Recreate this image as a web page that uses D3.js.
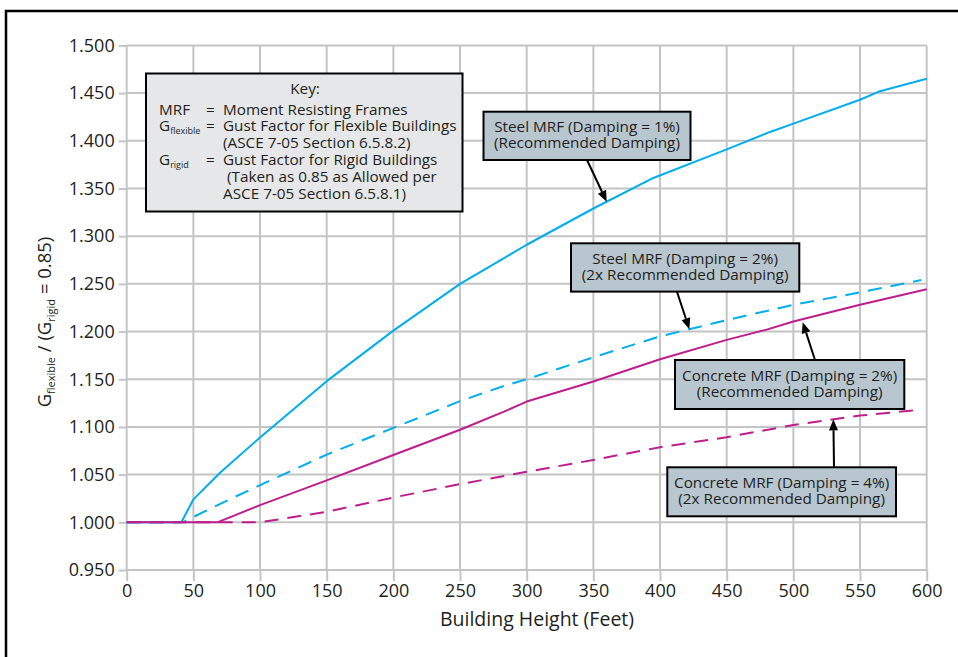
<!DOCTYPE html>
<html><head><meta charset="utf-8">
<script src="https://cdn.jsdelivr.net/npm/d3@7"></script>
<style>
body{margin:0;background:#fff}
svg{display:block}
text{font-family:"Open Sans",sans-serif;fill:#231f20}
</style>
</head><body>
<svg id="c" width="958" height="657"></svg>
<script>
// ---- data (building height in feet, G_flexible / G_rigid) ----
const steel1 = [[0,1.0],[41,1.0],[50,1.024],[70,1.052],[100,1.089],[150,1.148],[200,1.201],[250,1.250],[283,1.277],[300,1.291],[350,1.329],[395,1.361],[450,1.391],[482,1.409],[500,1.418],[550,1.443],[565,1.452],[600,1.465]];
const steel2 = [[0,1.0],[42,1.0],[65,1.016],[100,1.039],[150,1.071],[200,1.099],[250,1.127],[283,1.143],[300,1.150],[350,1.173],[400,1.195],[450,1.212],[500,1.228],[550,1.241],[596,1.254]];
const concrete2 = [[0,1.0],[68,1.0],[100,1.018],[150,1.044],[200,1.0706],[250,1.097],[283,1.116],[300,1.1266],[350,1.1476],[400,1.171],[450,1.1913],[480,1.202],[500,1.2105],[550,1.228],[600,1.2444]];
const concrete4 = [[0,1.0],[100,1.0],[150,1.011],[200,1.026],[250,1.040],[300,1.053],[350,1.0654],[400,1.0787],[450,1.0892],[500,1.102],[550,1.1119],[595,1.118]];

const xTickValues = [0,50,100,150,200,250,300,350,400,450,500,550,600];
const yTickValues = [0.95,1.0,1.05,1.1,1.15,1.2,1.25,1.3,1.35,1.4,1.45,1.5];

const seriesNames = ["Steel MRF 1%","Steel MRF 2%","Concrete MRF 2%","Concrete MRF 4%"];
const seriesData = [steel1, steel2, concrete2, concrete4];
const seriesColors = ["#00aeef","#00aeef","#be1e8c","#be1e8c"];
const seriesDashed = [false,true,false,true];

const annoLine1 = ["Steel MRF (Damping = 1%)","Steel MRF (Damping = 2%)","Concrete MRF (Damping = 2%)","Concrete MRF (Damping = 4%)"];
const annoLine2 = ["(Recommended Damping)","(2x Recommended Damping)","(Recommended Damping)","(2x Recommended Damping)"];
const annoTargetX = [360, 422, 507, 530];

const keyDefinitions = ["Moment Resisting Frames","Gust Factor for Flexible Buildings","(ASCE 7-05 Section 6.5.8.2)","Gust Factor for Rigid Buildings","(Taken as 0.85 as Allowed per","ASCE 7-05 Section 6.5.8.1)"];

// ---- layout ----
const svg = d3.select("#c");
const L = 126.7, R = 926.7, T = 45.4, B = 570;
const x = d3.scaleLinear().domain([0,600]).range([L,R]);
const y = d3.scaleLinear().domain([0.95,1.5]).range([B,T]);
const grid = "#c4c4c4";
const fs = 15.3;

// outer frame
svg.append("rect").attr("x",6).attr("y",11).attr("width",1000).attr("height",700)
  .attr("fill","none").attr("stroke","#000").attr("stroke-width",2.5);

// gridlines
const g = svg.append("g");
g.selectAll(".vg").data(xTickValues).join("line")
  .attr("x1",d=>x(d)).attr("x2",d=>x(d)).attr("y1",T).attr("y2",B)
  .attr("stroke",grid).attr("stroke-width",2);
g.selectAll(".hg").data(yTickValues).join("line")
  .attr("x1",L).attr("x2",R).attr("y1",d=>y(d)).attr("y2",d=>y(d))
  .attr("stroke",grid).attr("stroke-width",2);

// axes
const xAxis = svg.append("g").attr("transform",`translate(0,${B})`)
  .call(d3.axisBottom(x).tickValues(xTickValues).tickSize(11).tickPadding(3).tickFormat(d3.format("d")));
const yAxis = svg.append("g").attr("transform",`translate(${L},0)`)
  .call(d3.axisLeft(y).tickValues(yTickValues).tickSize(8).tickPadding(4).tickFormat(d3.format(".3f")));
[xAxis,yAxis].forEach(a=>{
  a.select(".domain").remove();
  a.selectAll(".tick line").attr("stroke",grid).attr("stroke-width",2);
  a.selectAll(".tick text").attr("font-size",18).attr("font-family",'"Open Sans",sans-serif').attr("fill","#231f20");
});

// axis titles
svg.append("text").attr("x",537).attr("y",626).attr("text-anchor","middle")
  .attr("font-size",19.5).text("Building Height (Feet)");
const yt = svg.append("text").attr("transform","translate(51,322) rotate(-90)")
  .attr("text-anchor","middle").attr("font-size",18.5);
yt.append("tspan").text("G");
yt.append("tspan").attr("font-size",11).attr("dy",4).text("flexible");
yt.append("tspan").attr("dy",-4).text(" / (G");
yt.append("tspan").attr("font-size",11).attr("dy",4).text("rigid");
yt.append("tspan").attr("dy",-4).text(" = 0.85)");

// data lines
const line = d3.line().x(d=>x(d[0])).y(d=>y(d[1]));
seriesData.forEach((s,i)=>{
  svg.append("path").datum(s).attr("d",line).attr("fill","none")
    .attr("stroke",seriesColors[i]).attr("stroke-width",2)
    .attr("stroke-dasharray",seriesDashed[i]?"14,9":null)
    .attr("stroke-linejoin","round");
});

// key box
const key = svg.append("g");
key.append("rect").attr("x",146).attr("y",73.5).attr("width",316.5).attr("height",138)
  .attr("fill","#e6e7e8").attr("stroke","#000").attr("stroke-width",2);
key.append("text").attr("x",305).attr("y",93.5).attr("text-anchor","middle").attr("font-size",fs).text("Key:");
const rowY = [114.5,131,148,165,182,198.5];
const rowX = [223,223,223,223,227,223];
// labels column
const lab = key.append("text").attr("font-size",fs);
lab.append("tspan").attr("x",159).attr("y",rowY[0]).text("MRF");
lab.append("tspan").attr("x",159).attr("y",rowY[1]).text("G");
lab.append("tspan").attr("y",rowY[1]+3).attr("font-size",9).text("flexible");
lab.append("tspan").attr("x",159).attr("y",rowY[3]).text("G");
lab.append("tspan").attr("y",rowY[3]+3).attr("font-size",9).text("rigid");
// equals column
const eq = key.append("text").attr("font-size",fs);
[0,1,3].forEach(r=>eq.append("tspan").attr("x",206).attr("y",rowY[r]).text("="));
// definitions column
const def = key.append("text").attr("font-size",fs);
keyDefinitions.forEach((t,r)=>def.append("tspan").attr("x",rowX[r]).attr("y",rowY[r]).text(t));

// annotations
const boxes = [
  {x:483.5,y:111.7,w:207,h:48.3, tail:[587,160]},
  {x:571,y:243.3,w:228.3,h:48.3, tail:[677,291.7]},
  {x:675,y:360,w:229.3,h:49, tail:[815,360]},
  {x:667.3,y:467.3,w:228.7,h:49, tail:[834,467.3]}
];
function interp(s, xv){
  for(let k=1;k<s.length;k++){
    if(xv<=s[k][0]){const a=s[k-1],b=s[k];return a[1]+(b[1]-a[1])*(xv-a[0])/(b[0]-a[0]);}
  }
  return s[s.length-1][1];
}
boxes.forEach((b,i)=>{
  svg.append("rect").attr("x",b.x).attr("y",b.y).attr("width",b.w).attr("height",b.h)
    .attr("fill","#b8c6cf").attr("stroke","#000").attr("stroke-width",2);
  const cx = b.x + b.w/2;
  const t = svg.append("text").attr("text-anchor","middle").attr("font-size",fs);
  t.append("tspan").attr("x",cx).attr("y",b.y+20.5).text(annoLine1[i]);
  t.append("tspan").attr("x",cx).attr("y",b.y+36.5).text(annoLine2[i]);
  // arrow
  const tx = x(annoTargetX[i]), ty = y(interp(seriesData[i], annoTargetX[i])) + (i===2?3:0);
  const [sx,sy] = b.tail;
  const ang = Math.atan2(ty-sy, tx-sx);
  const hl = 11, hw = 4.5;
  const bx = tx - hl*Math.cos(ang), by = ty - hl*Math.sin(ang);
  svg.append("line").attr("x1",sx).attr("y1",sy).attr("x2",bx).attr("y2",by)
    .attr("stroke","#000").attr("stroke-width",2);
  const px = -Math.sin(ang), py = Math.cos(ang);
  svg.append("path").attr("d",`M${tx},${ty}L${bx+px*hw},${by+py*hw}L${bx-px*hw},${by-py*hw}Z`).attr("fill","#000");
});
</script>
</body></html>
